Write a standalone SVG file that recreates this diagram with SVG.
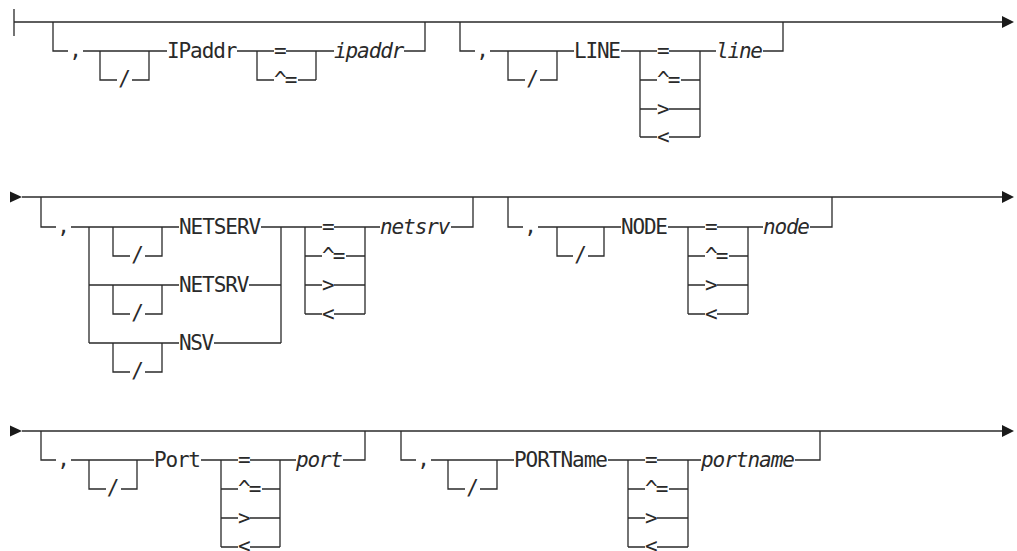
<svg xmlns="http://www.w3.org/2000/svg" width="1017" height="551" viewBox="0 0 1017 551">
<style>
.c{fill:none;stroke:#2a2a2a;stroke-width:1.3}
.a{fill:#1a1a1a}
text{font-family:"DejaVu Sans Mono","Liberation Mono",monospace;font-size:21px;fill:#2a2a2a}
.i{font-style:italic}
.m{text-anchor:middle}
</style>
<rect width="1017" height="551" fill="#fff"/>
<g id="connectors">
<!-- row 1 -->
<path class="c" d="M14 9V36M14 22H1002"/>
<path class="c" d="M53 22V51H68M83 51H167M100 51V80H117M132 80H149V51"/>
<path class="c" d="M237 51H274M286 51H316M257 51V80H274M298 80H316M316 51V80M316 51H334M404 51H425V22"/>
<path class="c" d="M460 22V51H475M490 51H574M508 51V80H525M540 80H557V51"/>
<path class="c" d="M621 51H657M669 51H700M640 51V137M640 80H657M681 80H700M640 109H657M669 109H700M640 137H657M669 137H700M700 51V137M700 51H716M763 51H783V22"/>
<polygon class="a" points="1002,16 1014,22 1002,28"/>
<!-- row 2 -->
<polygon class="a" points="10,191.5 22,197 10,202.5"/>
<path class="c" d="M22 197H1002"/>
<path class="c" d="M41 197V227H56M71 227H179M89 227V343M89 285H179M89 343H179"/>
<path class="c" d="M113 227V256H130M145 256H162V227M113 285V314H130M145 314H162V285M113 343V372H130M145 372H162V343"/>
<path class="c" d="M261 227H322M249 285H281M214 343H281M281 227V343"/>
<path class="c" d="M334 227H365M305 227V314M305 256H322M346 256H365M305 285H322M334 285H365M305 314H322M334 314H365M365 227V314M365 227H380M451 227H473V197"/>
<path class="c" d="M508 197V227H523M538 227H621M557 227V256H573M588 256H604V227"/>
<path class="c" d="M668 227H705M717 227H748M688 227V314M688 256H705M729 256H748M688 285H705M717 285H748M688 314H705M717 314H748M748 227V314M748 227H763M810 227H832V197"/>
<polygon class="a" points="1002,191 1014,197 1002,203"/>
<!-- row 3 -->
<polygon class="a" points="10,425.5 22,431 10,436.5"/>
<path class="c" d="M22 431H1002"/>
<path class="c" d="M41 431V460H56M71 460H154M89 460V489H106M121 489H137V460"/>
<path class="c" d="M201 460H238M250 460H280M221 460V547M221 489H238M262 489H280M221 518H238M250 518H280M221 547H238M250 547H280M280 460V547M280 460H296M343 460H365V431"/>
<path class="c" d="M401 431V460H416M431 460H514M448 460V489H465M480 489H497V460"/>
<path class="c" d="M608 460H645M657 460H688M628 460V547M628 489H645M669 489H688M628 518H645M657 518H688M628 547H645M657 547H688M688 460V547M688 460H701M795 460H820V431"/>
<polygon class="a" points="1002,425 1014,431 1002,437"/>
</g>
<g id="ipaddr-clause">
<text class="m" x="75.5" y="57">,</text>
<text class="m" x="124.5" y="86">/</text>
<text x="167" y="58" textLength="70.4" lengthAdjust="spacing">IPaddr</text>
<text x="274" y="58">=</text>
<text x="274" y="87" textLength="23.5" lengthAdjust="spacing">^=</text>
<text class="i" x="334" y="58" textLength="70.4" lengthAdjust="spacing">ipaddr</text>
</g>
<g id="line-clause">
<text class="m" x="482.5" y="57">,</text>
<text class="m" x="532.5" y="86">/</text>
<text x="574" y="58" textLength="47" lengthAdjust="spacing">LINE</text>
<text x="657" y="58">=</text>
<text x="657" y="87" textLength="23.5" lengthAdjust="spacing">^=</text>
<text x="657" y="116">&gt;</text>
<text x="657" y="144">&lt;</text>
<text class="i" x="716" y="58" textLength="47" lengthAdjust="spacing">line</text>
</g>
<g id="netserv-clause">
<text class="m" x="63.5" y="233">,</text>
<text class="m" x="137.5" y="262">/</text>
<text x="179" y="234" textLength="82.2" lengthAdjust="spacing">NETSERV</text>
<text class="m" x="137.5" y="320">/</text>
<text x="179" y="292" textLength="70.4" lengthAdjust="spacing">NETSRV</text>
<text class="m" x="137.5" y="378">/</text>
<text x="179" y="350" textLength="35.2" lengthAdjust="spacing">NSV</text>
<text x="322" y="234">=</text>
<text x="322" y="263" textLength="23.5" lengthAdjust="spacing">^=</text>
<text x="322" y="292">&gt;</text>
<text x="322" y="321">&lt;</text>
<text class="i" x="380" y="234" textLength="70.4" lengthAdjust="spacing">netsrv</text>
</g>
<g id="node-clause">
<text class="m" x="530.5" y="233">,</text>
<text class="m" x="580.5" y="262">/</text>
<text x="621" y="234" textLength="47" lengthAdjust="spacing">NODE</text>
<text x="705" y="234">=</text>
<text x="705" y="263" textLength="23.5" lengthAdjust="spacing">^=</text>
<text x="705" y="292">&gt;</text>
<text x="705" y="321">&lt;</text>
<text class="i" x="763" y="234" textLength="47" lengthAdjust="spacing">node</text>
</g>
<g id="port-clause">
<text class="m" x="63.5" y="466">,</text>
<text class="m" x="113" y="495">/</text>
<text x="154" y="467" textLength="47" lengthAdjust="spacing">Port</text>
<text x="238" y="467">=</text>
<text x="238" y="496" textLength="23.5" lengthAdjust="spacing">^=</text>
<text x="238" y="525">&gt;</text>
<text x="238" y="553">&lt;</text>
<text class="i" x="296" y="467" textLength="47" lengthAdjust="spacing">port</text>
</g>
<g id="portname-clause">
<text class="m" x="423.5" y="466">,</text>
<text class="m" x="472.5" y="495">/</text>
<text x="514" y="467" textLength="94" lengthAdjust="spacing">PORTName</text>
<text x="645" y="467">=</text>
<text x="645" y="496" textLength="23.5" lengthAdjust="spacing">^=</text>
<text x="645" y="525">&gt;</text>
<text x="645" y="553">&lt;</text>
<text class="i" x="701" y="467" textLength="94" lengthAdjust="spacing">portname</text>
</g>
</svg>
